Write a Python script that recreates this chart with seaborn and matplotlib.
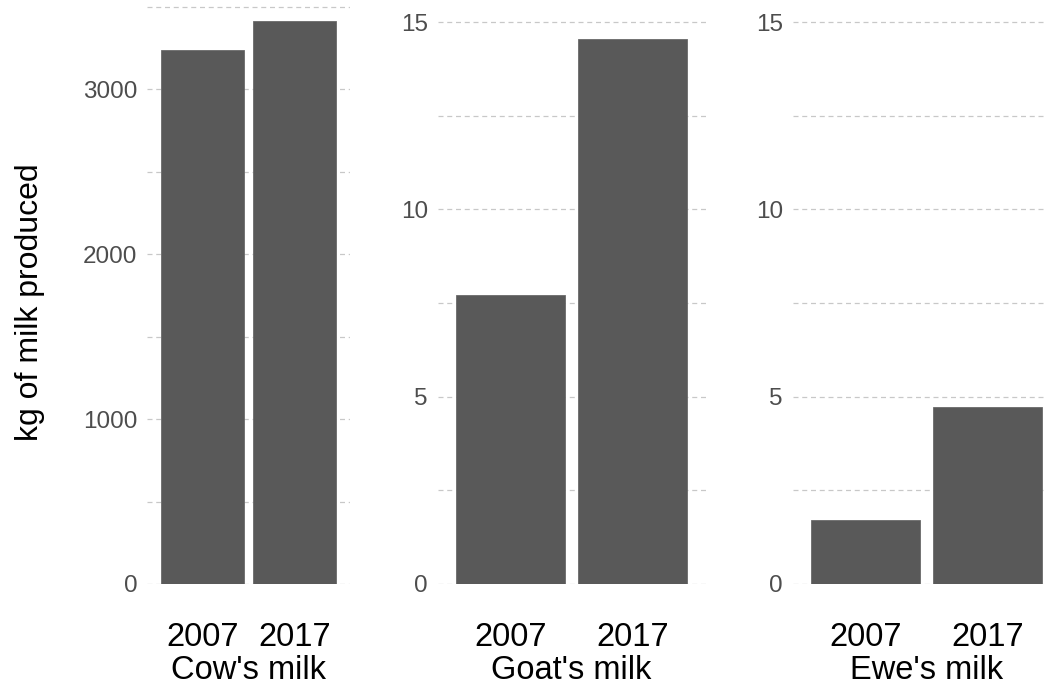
"""Milk production 2007 vs 2017, three panels."""
import matplotlib
matplotlib.use("Agg")
import matplotlib.pyplot as plt
from matplotlib.ticker import MultipleLocator
import seaborn as sns
import pandas as pd

years = ["2007", "2017"]
milk_types = ["Cow's milk", "Goat's milk", "Ewe's milk"]
cow_kg = [3236, 3412]
goat_kg = [7.71, 14.55]
ewe_kg = [1.71, 4.72]

df = pd.DataFrame({
    "year": years * 3,
    "milk": [m for m in milk_types for _ in years],
    "kg": cow_kg + goat_kg + ewe_kg,
})

sns.set_theme(style="white")
plt.rcParams["font.family"] = ["Liberation Sans", "DejaVu Sans"]

fig = plt.figure(figsize=(10.44, 6.85), dpi=100)
bottom = 1 - 584 / 685
height = 584 / 685
# posicoes dos paineis em pixels (esquerda, largura)
paineis = [(147, 203), (437.5, 268), (792.5, 268)]
ylims = [(0, 3540), (0, 15.59), (0, 15.59)]
major = [1000, 5, 5]
minor = [500, 2.5, 2.5]

for i, milk in enumerate(milk_types):
    left, w = paineis[i]
    ax = fig.add_axes([left / 1044, bottom, w / 1044, height])
    sub = df[df["milk"] == milk]
    sns.barplot(data=sub, x="year", y="kg", color="#595959", width=0.9,
                saturation=1, edgecolor="#6a6a6a", linewidth=0.6, ax=ax, zorder=3)
    ax.set_xlim(-0.6, 1.6)
    ax.set_ylim(*ylims[i])
    ax.yaxis.set_major_locator(MultipleLocator(major[i]))
    ax.yaxis.set_minor_locator(MultipleLocator(minor[i]))
    ax.grid(True, which="both", axis="y", color="#c8c8c8", linestyle=(0, (4, 3)), linewidth=0.9)
    ax.grid(False, axis="x")
    for s in ax.spines.values():
        s.set_visible(False)
    ax.tick_params(axis="y", which="both", length=0, pad=7, labelsize=17.5, labelcolor="#4d4d4d")
    ax.tick_params(axis="x", length=0, pad=27, labelsize=23.5, labelcolor="black")
    ax.set_xlabel(milk, fontsize=23.5, labelpad=2, color="black")
    if i == 0:
        ax.set_ylabel("kg of milk produced", fontsize=23, color="black")
        ax.yaxis.set_label_coords(-0.5, 0.483)
    else:
        ax.set_ylabel("")

fig.savefig("out.png", dpi=100)
